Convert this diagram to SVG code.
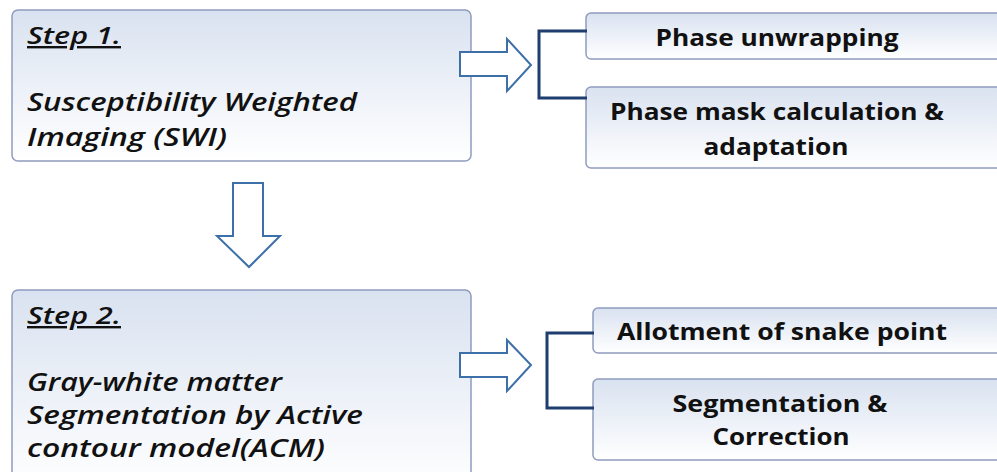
<svg xmlns="http://www.w3.org/2000/svg" width="997" height="472" viewBox="0 0 997 472">
<defs>
<linearGradient id="g" x1="0" y1="0" x2="0" y2="1">
<stop offset="0" stop-color="#d9e2f0"/>
<stop offset="1" stop-color="#ffffff"/>
</linearGradient>
<style>
.box{fill:url(#g);stroke:#8f9cbf;stroke-width:1.5}
.arr{fill:#fff;stroke:#3d6fa8;stroke-width:2;stroke-linejoin:miter}
.br{fill:none;stroke:#1f3d6e;stroke-width:3}
.lt{font-family:"Open Sans","DejaVu Sans",sans-serif;font-style:italic;font-weight:600;font-size:26px;fill:#111}
.st{font-family:"Open Sans","DejaVu Sans",sans-serif;font-style:italic;font-weight:600;font-size:24px;fill:#111;text-decoration:underline}
.rt{font-family:"Open Sans","DejaVu Sans",sans-serif;font-weight:700;font-size:24px;fill:#111;text-anchor:middle}
</style>
</defs>
<rect width="997" height="472" fill="#fff"/>
<g id="step1">
<rect class="box" x="12" y="10" width="459" height="151" rx="6"/>
<text class="st" x="27" y="44" textLength="94" lengthAdjust="spacingAndGlyphs">Step 1.</text>
<text class="lt" x="27" y="111" textLength="330" lengthAdjust="spacingAndGlyphs">Susceptibility Weighted</text>
<text class="lt" x="27" y="146" textLength="200" lengthAdjust="spacingAndGlyphs">Imaging (SWI)</text>
</g>
<g id="phase-unwrap">
<rect class="box" x="586" y="13" width="430" height="46" rx="5"/>
<text class="rt" x="777" y="46" textLength="243" lengthAdjust="spacingAndGlyphs">Phase unwrapping</text>
</g>
<g id="phase-mask">
<rect class="box" x="586" y="87" width="430" height="81" rx="5"/>
<text class="rt" x="777" y="120" textLength="334" lengthAdjust="spacingAndGlyphs">Phase mask calculation &amp;</text>
<text class="rt" x="776" y="155" textLength="145" lengthAdjust="spacingAndGlyphs">adaptation</text>
</g>
<g id="step2">
<rect class="box" x="12" y="290" width="459" height="200" rx="6"/>
<text class="st" x="27" y="324" textLength="94" lengthAdjust="spacingAndGlyphs">Step 2.</text>
<text class="lt" x="27" y="391" textLength="255" lengthAdjust="spacingAndGlyphs">Gray-white matter</text>
<text class="lt" x="27" y="424" textLength="336" lengthAdjust="spacingAndGlyphs">Segmentation by Active</text>
<text class="lt" x="27" y="457" textLength="298" lengthAdjust="spacingAndGlyphs">contour model(ACM)</text>
</g>
<g id="allotment">
<rect class="box" x="593" y="308" width="430" height="45" rx="5"/>
<text class="rt" x="782" y="340" textLength="330" lengthAdjust="spacingAndGlyphs">Allotment of snake point</text>
</g>
<g id="segcorr">
<rect class="box" x="593" y="379" width="430" height="81" rx="5"/>
<text class="rt" x="780" y="412" textLength="215" lengthAdjust="spacingAndGlyphs">Segmentation &amp;</text>
<text class="rt" x="781" y="445" textLength="137" lengthAdjust="spacingAndGlyphs">Correction</text>
</g>
<g id="connectors">
<polygon class="arr" points="460,52 507,52 507,39 531,65 507,91 507,76 460,76"/>
<polyline class="br" points="587,31 539,31 539,98 587,98"/>
<polygon class="arr" points="233,183 263,183 263,236 280,236 249,267 217,236 233,236"/>
<polygon class="arr" points="460,353 507,353 507,340 531,365 507,391 507,377 460,377"/>
<polyline class="br" points="594,333 547,333 547,408 594,408"/>
</g>
</svg>
